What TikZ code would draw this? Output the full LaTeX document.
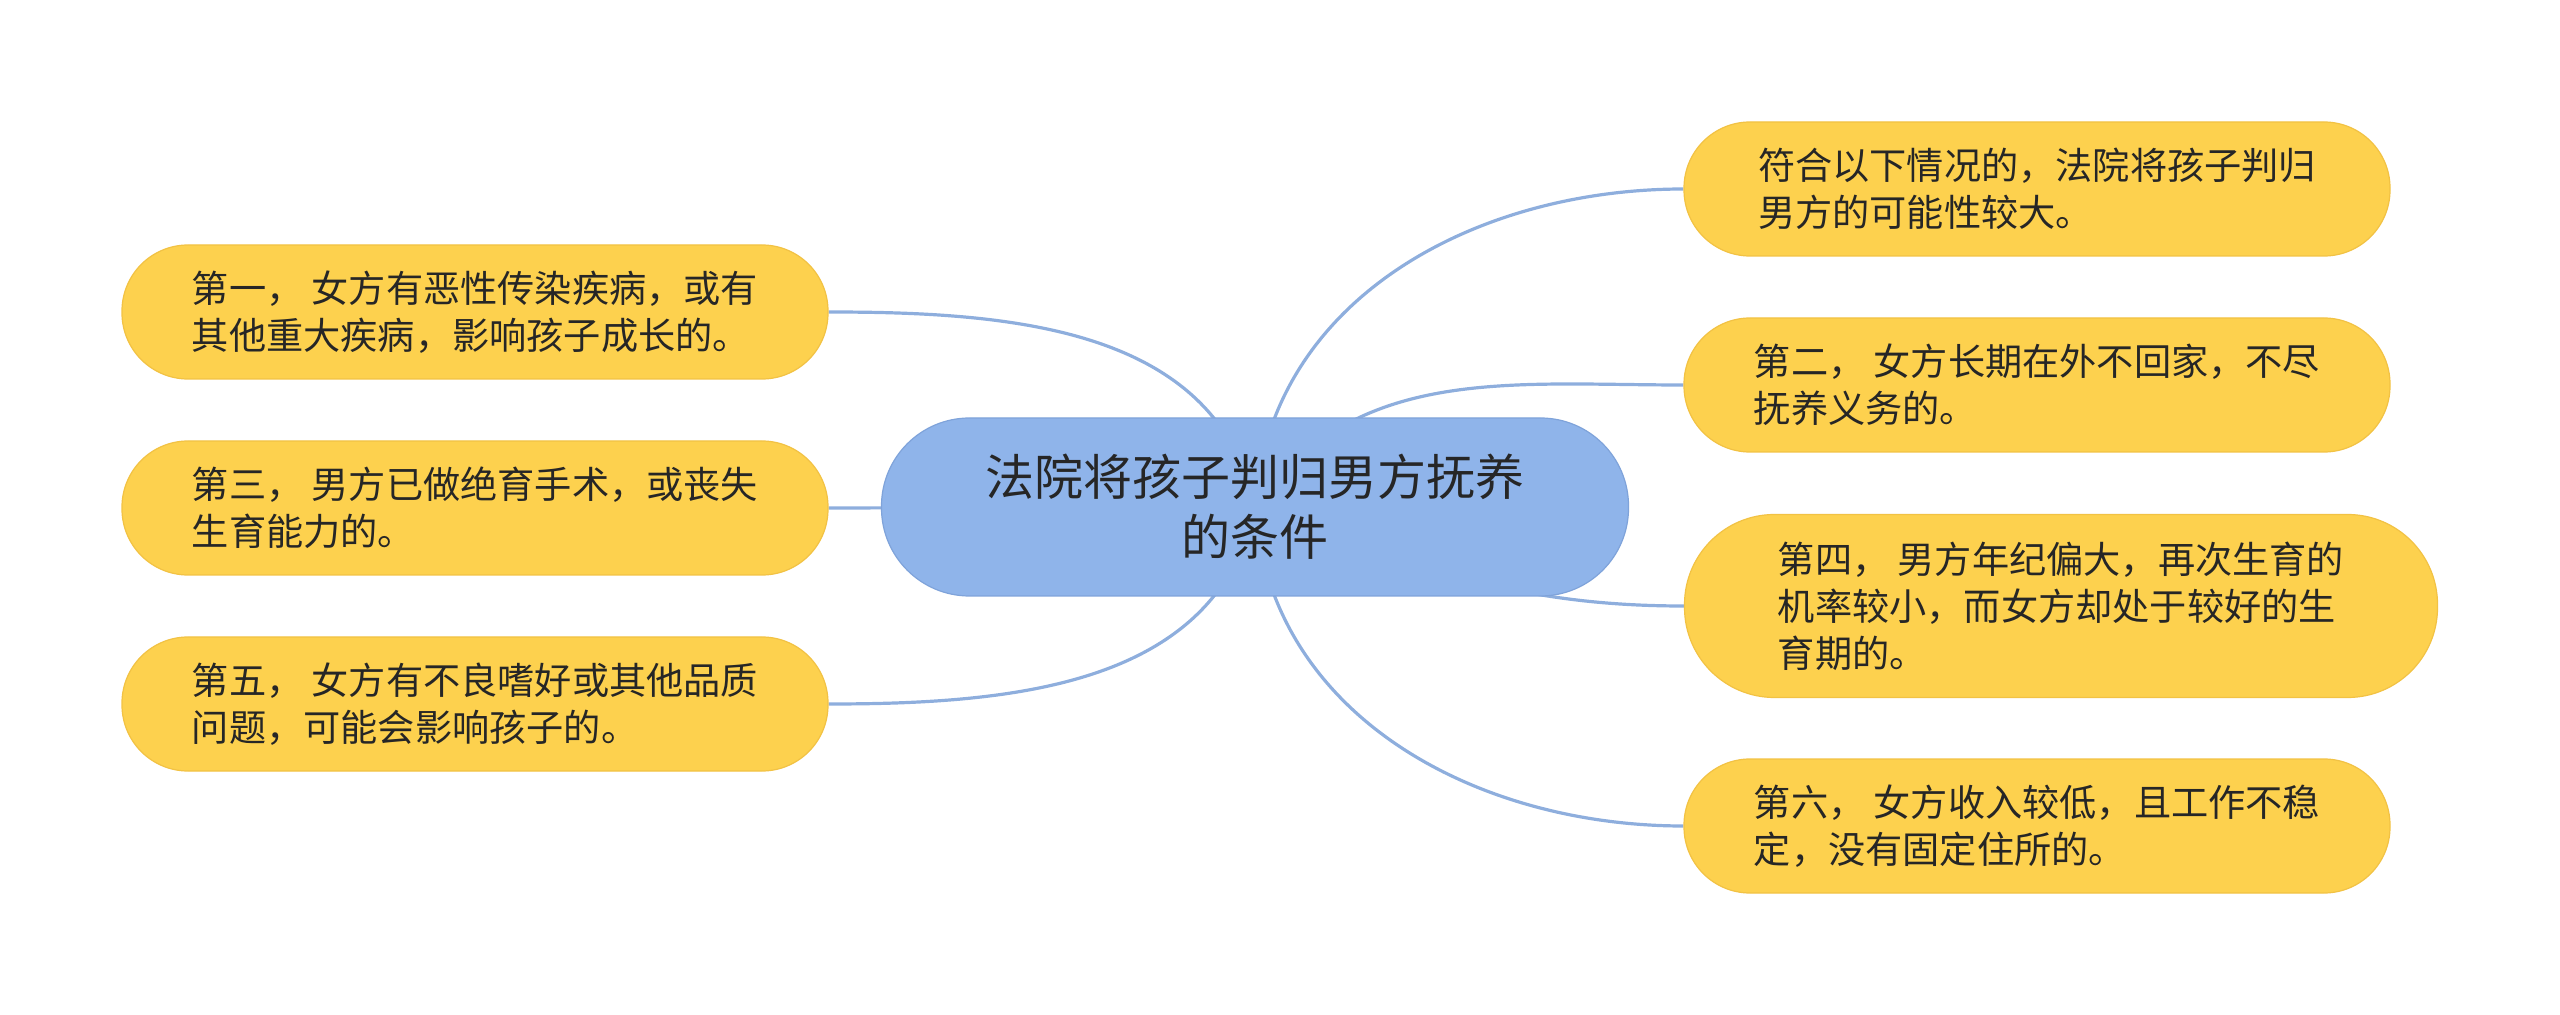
\documentclass[tikz,border=0pt]{standalone}
\usepackage{fontspec}
\usepackage{xcolor}
\usetikzlibrary{backgrounds}
\newfontfamily\cjk{Noto Sans CJK SC}
\definecolor{leafyellow}{HTML}{FDD14E}
\definecolor{leafedge}{HTML}{F2C244}
\definecolor{rootblue}{HTML}{8FB4EA}
\definecolor{rootedge}{HTML}{7FA3DA}
\definecolor{branchline}{HTML}{8EAEDD}
\definecolor{inktext}{HTML}{262626}

\begin{document}
\begin{tikzpicture}[x=0.5pt, y=-0.5pt,
    leaf/.style={draw=leafedge, fill=leafyellow, line width=0.6pt, rounded corners=33pt,
      minimum width=353pt, minimum height=67pt, inner sep=0pt, align=left, text=inktext,
      font=\cjk\fontsize{18.6pt}{23.5pt}\selectfont},
    root/.style={draw=rootedge, fill=rootblue, line width=0.6pt, rounded corners=44pt,
      minimum width=373.5pt, minimum height=89pt, inner sep=0pt, align=center, text=inktext,
      font=\cjk\fontsize{24.5pt}{30pt}\selectfont},
    branch/.style={draw=branchline, line width=1.6pt}]
    \useasboundingbox (0,0) rectangle (2560,1015);
    % centre topic
    \node[root] (topic) at (1255,507) {法院将孩子判归男方抚养\\的条件};
    % left side
    \node[leaf] (first) at (475,312) {第一， 女方有恶性传染疾病，或有\\其他重大疾病，影响孩子成长的。};
    \node[leaf] (third) at (475,508) {第三， 男方已做绝育手术，或丧失\\生育能力的。};
    \node[leaf] (fifth) at (475,704) {第五， 女方有不良嗜好或其他品质\\问题，可能会影响孩子的。};
    % right side
    \node[leaf] (intro) at (2037,189) {符合以下情况的，法院将孩子判归\\男方的可能性较大。};
    \node[leaf] (second) at (2037,385) {第二， 女方长期在外不回家，不尽\\抚养义务的。};
    \node[leaf, minimum width=376.5pt, minimum height=91.5pt, rounded corners=45pt] (fourth) at (2061,606)
      {第四， 男方年纪偏大，再次生育的\\机率较小，而女方却处于较好的生\\育期的。};
    \node[leaf] (sixth) at (2037,826) {第六， 女方收入较低，且工作不稳\\定，没有固定住所的。};
    \begin{scope}[on background layer]
      \draw[branch] (topic.center) to[out=102,in=0] (first.east);
      \draw[branch] (topic.center) -- (third.east);
      \draw[branch] (topic.center) to[out=-102,in=0] (fifth.east);
      \draw[branch] (topic.center) to[out=86,in=180] (intro.west);
      \draw[branch] (topic.center) to[out=55,in=180] (second.west);
      \draw[branch] (topic.center) to[out=-20,in=180] (fourth.west);
      \draw[branch] (topic.center) to[out=-86,in=180] (sixth.west);
    \end{scope}
  \end{tikzpicture}
\end{document}
